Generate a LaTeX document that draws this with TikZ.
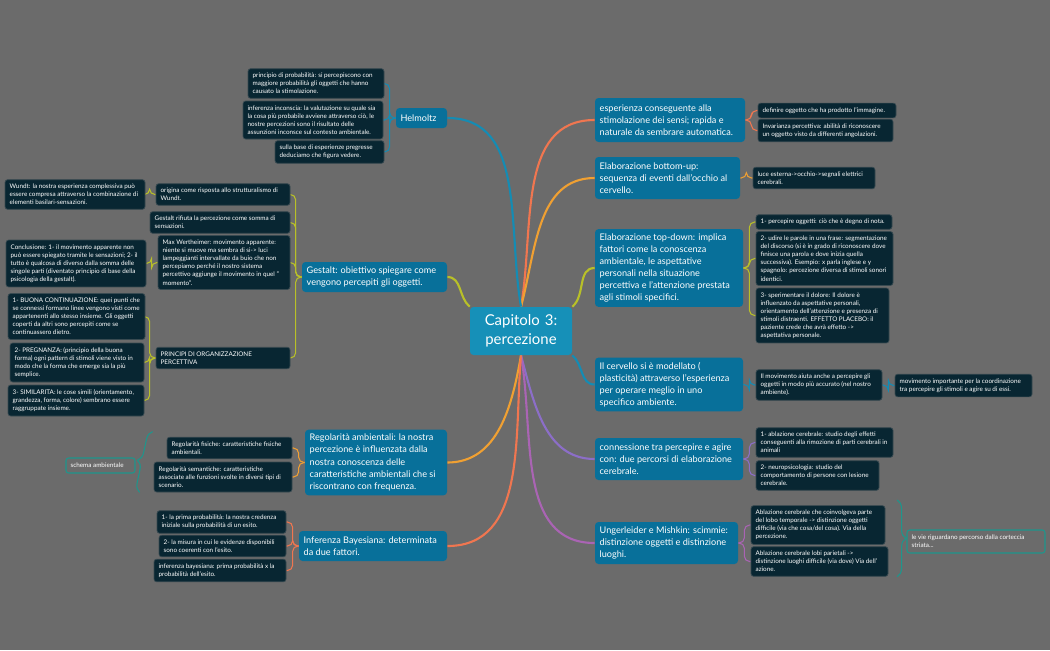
\documentclass[tikz,border=0pt]{standalone}
\usepackage{fontspec}
\setmainfont{Lato}
\usetikzlibrary{positioning,calc,decorations.pathreplacing}
\definecolor{bggray}{RGB}{107,107,107}
\definecolor{mainblue}{RGB}{8,112,154}
\definecolor{ctrblue}{RGB}{22,144,184}
\definecolor{darkbox}{RGB}{8,38,50}
\definecolor{cred}{RGB}{240,118,80}
\definecolor{corange}{RGB}{240,160,50}
\definecolor{cyellow}{RGB}{184,192,40}
\definecolor{cblue}{RGB}{20,140,180}
\definecolor{cpurple}{RGB}{140,110,200}
\definecolor{cpink}{RGB}{170,100,180}
\definecolor{cteal}{RGB}{30,150,140}
\pgfdeclarelayer{bg}
\pgfdeclarelayer{edges}
\pgfsetlayers{bg,edges,main}
\hyphenpenalty=10000
\exhyphenpenalty=10000
% box placed from its pixel corners
\newcommand\mmnode[7]{%
  \pgfmathsetmacro\mmtw{(#5-#3)*0.5669-5}%
  \node[#1,minimum width={(#5-#3)*0.02cm},minimum height={(#6-#4)*0.02cm},
    text width=\mmtw pt] (#2) at ({(#3+#5)/2},{(#4+#6)/2}) {#7};}
% elbow links to children
\newcommand\elbr[3]{\draw[sub,#1] (#2.east) -- ++(6,0) |- (#3.west);}
\newcommand\elbl[3]{\draw[sub,#1] (#2.west) -- ++(-6,0) |- (#3.east);}
\begin{document}
\begin{tikzpicture}[x=0.02cm,y=-0.02cm,
    topic/.style={rectangle,rounded corners=2pt,fill=mainblue,text=white,align=flush left,
		inner sep=2.5pt,font=\fontsize{5.2}{6.9}\selectfont},
    note/.style={rectangle,rounded corners=1.5pt,fill=darkbox,draw=darkbox!60!gray,text=white,
		align=flush left,inner sep=2.5pt,font=\fontsize{3.6}{4.6}\selectfont},
    ghost/.style={note,fill=bggray,draw=cteal,line width=0.6pt},
    center/.style={rectangle,rounded corners=2pt,fill=ctrblue,text=white,align=center,
		inner sep=2pt,font=\fontsize{8.5}{11}\selectfont},
% branch styles
    branch/.style={line width=1.2pt},
    sub/.style={line width=0.6pt,rounded corners=3pt}
    ]
\begin{pgfonlayer}{bg}
\fill[bggray] (0,0) rectangle (1050,650);
\end{pgfonlayer}

\mmnode{center}{ctr}{470}{307}{572}{355}{Capitolo 3:\\percezione}

\mmnode{topic}{esper}{595}{98}{745}{142}{esperienza conseguente alla stimolazione dei sensi; rapida e naturale da sembrare automatica.}
\mmnode{topic}{bottom}{595}{157}{740}{199}{Elaborazione bottom-up: sequenza di eventi dall'occhio al cervello.}
\mmnode{topic}{topdown}{595}{231}{743}{305}{Elaborazione top-down: implica fattori come la conoscenza ambientale, le aspettative personali nella situazione percettiva e l'attenzione prestata agli stimoli specifici.}
\mmnode{topic}{cervello}{595}{358}{743}{411}{Il cervello si è modellato ( plasticità) attraverso l'esperienza per operare meglio in uno specifico ambiente.}
\mmnode{topic}{connes}{595}{438}{743}{480}{connessione tra percepire e agire con: due percorsi di elaborazione cerebrale.}
\mmnode{topic}{unger}{595}{522}{738}{564}{Ungerleider e Mishkin: scimmie: distinzione oggetti e distinzione luoghi.}

\mmnode{topic}{helm}{396}{108}{447}{128}{Helmoltz}
\mmnode{topic}{gestalt}{302}{262}{447}{292}{Gestalt: obiettivo spiegare come vengono percepiti gli oggetti.}
\mmnode{topic}{regol}{305}{431}{447}{494}{Regolarità ambientali: la nostra percezione è influenzata dalla nostra conoscenza delle caratteristiche ambientali che si riscontrano con frequenza.}
\mmnode{topic}{bayes}{299}{531}{447}{561}{Inferenza Bayesiana: determinata da due fattori.}

\mmnode{note}{esperA}{758}{104}{896}{117}{definire oggetto che ha prodotto l'immagine.}
\mmnode{note}{esperB}{758}{120}{893}{141}{Invarianza percettiva: abilità di riconoscere un oggetto visto da differenti angolazioni.}
\mmnode{note}{bottomA}{753}{168}{875}{188}{luce esterna->occhio->segnali elettrici cerebrali.}
\mmnode{note}{topA}{756}{216}{892}{228}{1- percepire oggetti: ciò che è degno di nota.}
\mmnode{note}{topB}{756}{232}{893}{285}{2- udire le parole in una frase: segmentazione del discorso (si è in grado di riconoscere dove finisce una parola e dove inizia quella successiva). Esempio: x parla inglese e y spagnolo: percezione diversa di stimoli sonori identici.}
\mmnode{note}{topC}{756}{289}{889}{342}{3- sperimentare il dolore: Il dolore è influenzato da aspettative personali, orientamento dell'attenzione e presenza di stimoli distraenti. EFFETTO PLACEBO: il paziente crede che avrà effetto -> aspettativa personale.}
\mmnode{note}{cervA}{756}{370}{882}{400}{Il movimento aiuta anche a percepire gli oggetti in modo più accurato (nel nostro ambiente).}
\mmnode{note}{cervB}{895}{375}{1032}{396}{movimento importante per la coordinazione tra percepire gli stimoli e agire su di essi.}
\mmnode{note}{connA}{756}{428}{893}{457}{1- ablazione cerebrale: studio degli effetti conseguenti alla rimozione di parti cerebrali in animali}
\mmnode{note}{connB}{756}{461}{879}{490}{2- neuropsicologia: studio del comportamento di persone con lesione cerebrale.}
\mmnode{note}{ungA}{751}{506}{885}{544}{Ablazione cerebrale che coinvolgeva parte del lobo temporale -> distinzione oggetti difficile (via che cosa/del cosa). Via della percezione.}
\mmnode{note}{ungB}{751}{547}{888}{576}{Ablazione cerebrale lobi parietali -> distinzione luoghi difficile (via dove) Via dell' azione.}
\mmnode{ghost}{striata}{907}{530}{1045}{553}{le vie riguardano percorso dalla corteccia striata...}

\mmnode{note}{helmA}{248}{69}{384}{98}{principio di probabilità: si percepiscono con maggiore probabilità gli oggetti che hanno causato la stimolazione.}
\mmnode{note}{helmB}{243}{101}{383}{139}{inferenza inconscia: la valutazione su quale sia la cosa più probabile avviene attraverso ciò, le nostre percezioni sono il risultato delle assunzioni inconsce sul contesto ambientale.}
\mmnode{note}{helmC}{275}{142}{384}{162}{sulla base di esperienze pregresse deduciamo che figura vedere.}
\mmnode{note}{gesA}{156}{184}{290}{205}{origina come risposta allo strutturalismo di Wundt.}
\mmnode{note}{gesB}{150}{212}{290}{233}{Gestalt rifiuta la percezione come somma di sensazioni.}
\mmnode{note}{gesC}{158}{237}{290}{288}{Max Wertheimer: movimento apparente: niente si muove ma sembra di si-> luci lampeggianti intervallate da buio che non percepiamo perché il nostro sistema percettivo aggiunge il movimento in quel " momento".}
\mmnode{note}{gesD}{156}{351}{290}{365}{PRINCIPI DI ORGANIZZAZIONE PERCETTIVA}
\mmnode{note}{wundt}{5}{180}{145}{209}{Wundt: la nostra esperienza complessiva può essere compresa attraverso la combinazione di elementi basilari-sensazioni.}
\mmnode{note}{concl}{6}{241}{146}{286}{Conclusione: 1- il movimento apparente non può essere spiegato tramite le sensazioni; 2- il tutto è qualcosa di diverso dalla somma delle singole parti (diventato principio di base della psicologia della gestalt).}
\mmnode{note}{princA}{8}{294}{145}{339}{1- BUONA CONTINUAZIONE: quei punti che se connessi formano linee vengono visti come appartenenti allo stesso insieme. Gli oggetti coperti da altri sono percepiti come se continuassero dietro.}
\mmnode{note}{princB}{10}{344}{144}{381}{2- PREGNANZA: (principio della buona forma) ogni pattern di stimoli viene visto in modo che la forma che emerge sia la più semplice.}
\mmnode{note}{princC}{8}{386}{144}{415}{3- SIMILARITA: le cose simili (orientamento, grandezza, forma, colore) sembrano essere raggruppate insieme.}
\mmnode{note}{regA}{167}{438}{292}{458}{Regolarità fisiche: caratteristiche fisiche ambientali.}
\mmnode{note}{regB}{154}{462}{292}{492}{Regolarità semantiche: caratteristiche associate alle funzioni svolte in diversi tipi di scenario.}
\mmnode{ghost}{schema}{66}{458}{135}{473}{\centering schema ambientale}
\mmnode{note}{bayA}{157}{511}{286}{533}{1- la prima probabilità: la nostra credenza iniziale sulla probabilità di un esito.}
\mmnode{note}{bayB}{159}{536}{286}{556}{2- la misura in cui le evidenze disponibili sono coerenti con l'esito.}
\mmnode{note}{bayC}{154}{560}{286}{581}{inferenza bayesiana: prima probabilità x la probabilità dell'esito.}

\begin{pgfonlayer}{edges}
\draw[branch,cred] (ctr.north) to[out=80,in=180] (esper.west);
\draw[branch,corange] (ctr.north) to[out=75,in=180] (bottom.west);
\draw[branch,cyellow] (ctr.north east) to[out=40,in=180] (topdown.west);
\draw[branch,cblue] (ctr.south east) to[out=-40,in=180] (cervello.west);
\draw[branch,cpurple] (ctr.south) to[out=-75,in=180] (connes.west);
\draw[branch,cpink] (ctr.south) to[out=-80,in=180] (unger.west);
\draw[branch,cblue] (ctr.north) to[out=100,in=0] (helm.east);
\draw[branch,cyellow] (ctr.north west) to[out=140,in=0] (gestalt.east);
\draw[branch,corange] (ctr.south) to[out=-100,in=0] (regol.east);
\draw[branch,cred] (ctr.south) to[out=-95,in=0] (bayes.east);

\elbr{cred}{esper}{esperA}  \elbr{cred}{esper}{esperB}
\elbr{corange}{bottom}{bottomA}
\elbr{cyellow}{topdown}{topA} \elbr{cyellow}{topdown}{topB} \elbr{cyellow}{topdown}{topC}
\elbr{cblue}{cervello}{cervA} \elbr{cblue}{cervA}{cervB}
\elbr{cpurple}{connes}{connA} \elbr{cpurple}{connes}{connB}
\elbr{cpink}{unger}{ungA} \elbr{cpink}{unger}{ungB}
\elbl{cblue}{helm}{helmA} \elbl{cblue}{helm}{helmB} \elbl{cblue}{helm}{helmC}
\elbl{cyellow}{gestalt}{gesA} \elbl{cyellow}{gestalt}{gesB}
\elbl{cyellow}{gestalt}{gesC} \elbl{cyellow}{gestalt}{gesD}
\elbl{cyellow}{gesA}{wundt} \elbl{cyellow}{gesC}{concl}
\elbl{cyellow}{gesD}{princA} \elbl{cyellow}{gesD}{princB} \elbl{cyellow}{gesD}{princC}
\elbl{corange}{regol}{regA} \elbl{corange}{regol}{regB}
\elbl{cred}{bayes}{bayA} \elbl{cred}{bayes}{bayB} \elbl{cred}{bayes}{bayC}
\draw[cteal,line width=0.6pt,decorate,decoration={brace,amplitude=5pt}]
  ([xshift=-8pt]regB.south west) -- ([xshift=-8pt,yshift=3pt]regA.north west);
\draw[cteal,line width=0.6pt,decorate,decoration={brace,amplitude=5pt}]
  ([xshift=5pt,yshift=3pt]ungB.east |- ungA.north) -- ([xshift=5pt]ungB.south east);
\end{pgfonlayer}
\end{tikzpicture}
\end{document}
